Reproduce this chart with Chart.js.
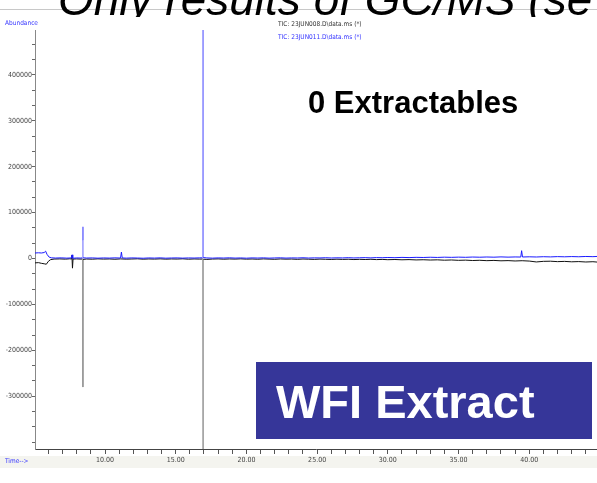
<!DOCTYPE html>
<html>
<head>
<meta charset="utf-8">
<script src="https://cdn.jsdelivr.net/npm/chart.js@4"></script>
<style>
  html, body { margin: 0; padding: 0; background: #fff; }
  canvas { display: block; }
</style>
</head>
<body>
<canvas id="myChart" width="597" height="483"></canvas>
<script>
// run 1 (23JUN008) - black trace, drawn mirrored below zero
const blackTime = [5.05, 5.3, 5.5, 5.7, 5.85, 6.0, 6.15, 6.4, 6.8, 7.2, 7.5, 7.62, 7.66, 7.7, 7.74, 8.0, 8.3, 8.41, 8.43, 8.44, 8.45,
  8.7, 9.1, 9.5, 9.9, 10.3, 10.7, 11.1, 11.5, 11.9, 12.3, 12.7, 13.1, 13.5, 13.9, 14.3, 14.7, 15.1, 15.5, 15.9, 16.3, 16.7,
  16.91, 16.93, 16.95, 17.2, 17.6, 18.0, 18.4, 18.8, 19.2, 19.6, 20.0, 20.4, 20.8, 21.2, 21.6, 22.0, 22.4, 22.8, 23.2, 23.6,
  24.0, 24.4, 24.8, 25.2, 25.6, 26.0, 26.4, 26.8, 27.2, 27.6, 28.0, 28.4, 28.8, 29.2, 29.6, 30.0, 30.5, 31.0, 31.5, 32.0,
  32.5, 33.0, 33.5, 34.0, 34.5, 35.0, 35.5, 36.0, 36.5, 37.0, 37.5, 38.0, 38.5, 39.0, 39.5, 40.0, 40.5, 41.0, 41.5, 42.0,
  42.5, 43.0, 43.5, 44.0, 44.5, 44.8];
const blackAbund = [-9500, -9000, -10500, -11500, -12500, -6000, -2500, -1200, -900, -1400, -700, -1000, 7000, -21000, -1200, -900, -1300, -1000, -185000, -280000, -2000,
  -1100, -1500, -800, -1300, -1000, -1600, -900, -1400, -1100, -700, -1500, -1000, -1300, -800, -1400, -1000, -1200, -700, -1500, -1000, -1300,
  -1200, -600000, -1500, -2000, -1200, -900, -1500, -1000, -1300, -800, -1400, -1100, -1600, -900, -1300, -1700, -1000, -1400, -1200, -1800,
  -1100, -1500, -1900, -1300, -1700, -2100, -1500, -2000, -1600, -2300, -1800, -2200, -1700, -2400, -2000, -2600, -2200, -2800, -2400, -3100,
  -2700, -3300, -2900, -3700, -3200, -4000, -3600, -4400, -3900, -4700, -4200, -5000, -4600, -5400, -4800, -5600, -7500, -6200, -5900, -6800,
  -6300, -7200, -6700, -7600, -7000, -7800];

// run 2 (23JUN011) - blue trace
const blueTime = [5.05, 5.3, 5.5, 5.7, 5.8, 5.9, 6.05, 6.2, 6.5, 6.9, 7.3, 7.62, 7.67, 7.72, 8.0, 8.3, 8.41, 8.43, 8.44, 8.45,
  8.7, 9.1, 9.5, 9.9, 10.3, 10.7, 11.1, 11.16, 11.22, 11.5, 11.9, 12.3, 12.7, 13.1, 13.5, 13.9, 14.3, 14.7, 15.1, 15.5, 15.9,
  16.3, 16.7, 16.91, 16.93, 16.95, 17.2, 17.6, 18.0, 18.4, 18.8, 19.2, 19.6, 20.0, 20.4, 20.8, 21.2, 21.6, 22.0, 22.4, 22.8,
  23.2, 23.6, 24.0, 24.4, 24.8, 25.2, 25.6, 26.0, 26.4, 26.8, 27.2, 27.6, 28.0, 28.4, 28.8, 29.2, 29.6, 30.0, 30.5, 31.0,
  31.5, 32.0, 32.5, 33.0, 33.5, 34.0, 34.5, 35.0, 35.5, 36.0, 36.5, 37.0, 37.5, 38.0, 38.5, 39.0, 39.4, 39.46, 39.52, 40.0,
  40.5, 41.0, 41.5, 42.0, 42.5, 43.0, 43.5, 44.0, 44.5, 44.8];
const blueAbund = [12000, 12500, 12000, 13000, 16000, 9000, 3000, 1500, 1000, 1400, 800, 1200, 8000, 500, 1200, 900, 1500, 40000, 69000, 1500,
  1000, 1300, 700, 1200, 900, 1400, 1000, 14000, 1200, 800, 1300, 1000, 600, 1200, 900, 1400, 700, 1100, 1300, 800, 1200,
  1000, 1400, 1500, 600000, 2000, 1200, 800, 1300, 1000, 1500, 900, 1200, 700, 1300, 1000, 1400, 800, 1200, 1500, 900,
  1300, 1100, 1600, 1000, 1400, 1200, 1700, 1100, 1500, 1300, 1800, 1200, 1600, 1900, 1400, 2000, 1700, 2200, 1800, 2400,
  2000, 2500, 2200, 2700, 2300, 2900, 2500, 3000, 2600, 3200, 2800, 3300, 2900, 3500, 3000, 3400, 3200, 17000, 3300, 3700,
  3300, 3900, 3500, 4100, 3700, 4200, 3800, 4400, 4000, 4500];

const seriesLabels = ['TIC: 23JUN008.D\\data.ms (*)', 'TIC: 23JUN011.D\\data.ms (*)'];
const xTickLabels = [10, 15, 20, 25, 30, 35, 40];
const yTickLabels = [400000, 300000, 200000, 100000, 0, -100000, -200000, -300000];

const smallFont = "'Liberation Sans Narrow', 'DejaVu Sans Condensed', 'Liberation Sans', sans-serif";

const toPoints = (xs, ys) => xs.map((x, i) => ({ x: x, y: ys[i] }));

// tall thin spikes look washed out in the original (1px antialiased lines)
const spikeColor = (dark, light) => (c) =>
  Math.abs(c.p1.parsed.y - c.p0.parsed.y) > 30000 ? light : dark;

const slideExtras = {
  id: 'slideExtras',
  beforeDraw(chart) {
    const ctx = chart.ctx;
    ctx.save();
    ctx.fillStyle = '#ffffff';
    ctx.fillRect(0, 0, 597, 483);
    // slide title, mostly hidden behind the pasted chart
    ctx.strokeStyle = '#c8c8c8';
    ctx.lineWidth = 1;
    ctx.beginPath();
    ctx.moveTo(0, 9.5);
    ctx.lineTo(597, 9.5);
    ctx.stroke();
    ctx.beginPath();
    ctx.rect(0, 0, 597, 17);
    ctx.clip();
    ctx.fillStyle = '#000';
    ctx.font = "italic 46px 'Liberation Sans', Arial, sans-serif";
    ctx.textBaseline = 'alphabetic';
    ctx.fillText('Only results of GC/MS (se', 58, 15);
    ctx.restore();
    ctx.save();
    ctx.fillStyle = '#f4f4ef';
    ctx.fillRect(0, 456, 597, 12);
    ctx.restore();
  },
  afterDraw(chart) {
    const ctx = chart.ctx;
    ctx.save();
    ctx.textBaseline = 'middle';
    ctx.font = '6.5px ' + smallFont;
    ctx.fillStyle = '#3333ff';
    ctx.fillText('Abundance', 5, 23);
    ctx.fillText('Time-->', 5, 461);
    ctx.fillStyle = '#333';
    ctx.fillText(seriesLabels[0], 278, 24);
    ctx.fillStyle = '#3333ff';
    ctx.fillText(seriesLabels[1], 278, 37);

    ctx.textBaseline = 'alphabetic';
    ctx.fillStyle = '#000';
    ctx.font = "bold 31px 'Liberation Sans', Arial, sans-serif";
    ctx.fillText('0 Extractables', 308, 113);

    ctx.fillStyle = '#363699';
    ctx.fillRect(256, 362, 336, 77);
    ctx.fillStyle = '#fff';
    ctx.font = "bold 47px 'Liberation Sans', Arial, sans-serif";
    ctx.fillText('WFI Extract', 276, 418);
    ctx.restore();
  }
};

const ctx = document.getElementById('myChart').getContext('2d');
const myChart = new Chart(ctx, {
  type: 'line',
  data: {
    datasets: [
      {
        label: seriesLabels[1],
        data: toPoints(blueTime, blueAbund),
        borderColor: '#1a1aff',
        segment: { borderColor: spikeColor('#1a1aff', '#9a9aff') },
        borderWidth: 1,
        pointRadius: 0,
        tension: 0
      },
      {
        label: seriesLabels[0],
        data: toPoints(blackTime, blackAbund),
        borderColor: '#111',
        segment: { borderColor: spikeColor('#111', '#9a9a9a') },
        borderWidth: 1,
        pointRadius: 0,
        tension: 0
      }
    ]
  },
  options: {
    responsive: false,
    animation: false,
    layout: { padding: { top: 30, left: 0, right: 0, bottom: 0 } },
    plugins: { legend: { display: false }, tooltip: { enabled: false } },
    scales: {
      x: {
        type: 'linear',
        min: 5.05,
        max: 44.79,
        border: { color: '#444', width: 1 },
        grid: { drawOnChartArea: false, tickLength: 5, tickColor: '#555' },
        afterBuildTicks: (scale) => {
          const t = [];
          for (let v = 6; v <= 44; v++) t.push({ value: v });
          scale.ticks = t;
        },
        afterFit: (scale) => { scale.height = 34; },
        ticks: {
          autoSkip: false,
          maxRotation: 0,
          padding: 2,
          color: '#444',
          font: { family: smallFont, size: 7 },
          callback: (v) => xTickLabels.includes(v) ? v.toFixed(2) : ''
        }
      },
      y: {
        min: -415000,
        max: 497800,
        border: { color: '#888', width: 1 },
        grid: { drawOnChartArea: false, tickLength: 3, tickColor: '#666' },
        afterBuildTicks: (scale) => {
          const t = [];
          for (let k = -12; k <= 14; k++) t.push({ value: Math.round(k * 100000 / 3) });
          scale.ticks = t;
        },
        afterFit: (scale) => { scale.width = 35; },
        ticks: {
          autoSkip: false,
          padding: 0,
          color: '#444',
          font: { family: smallFont, size: 7 },
          callback: (v) => yTickLabels.includes(v) ? String(v) : ''
        }
      }
    }
  },
  plugins: [slideExtras]
});
</script>
</body>
</html>
